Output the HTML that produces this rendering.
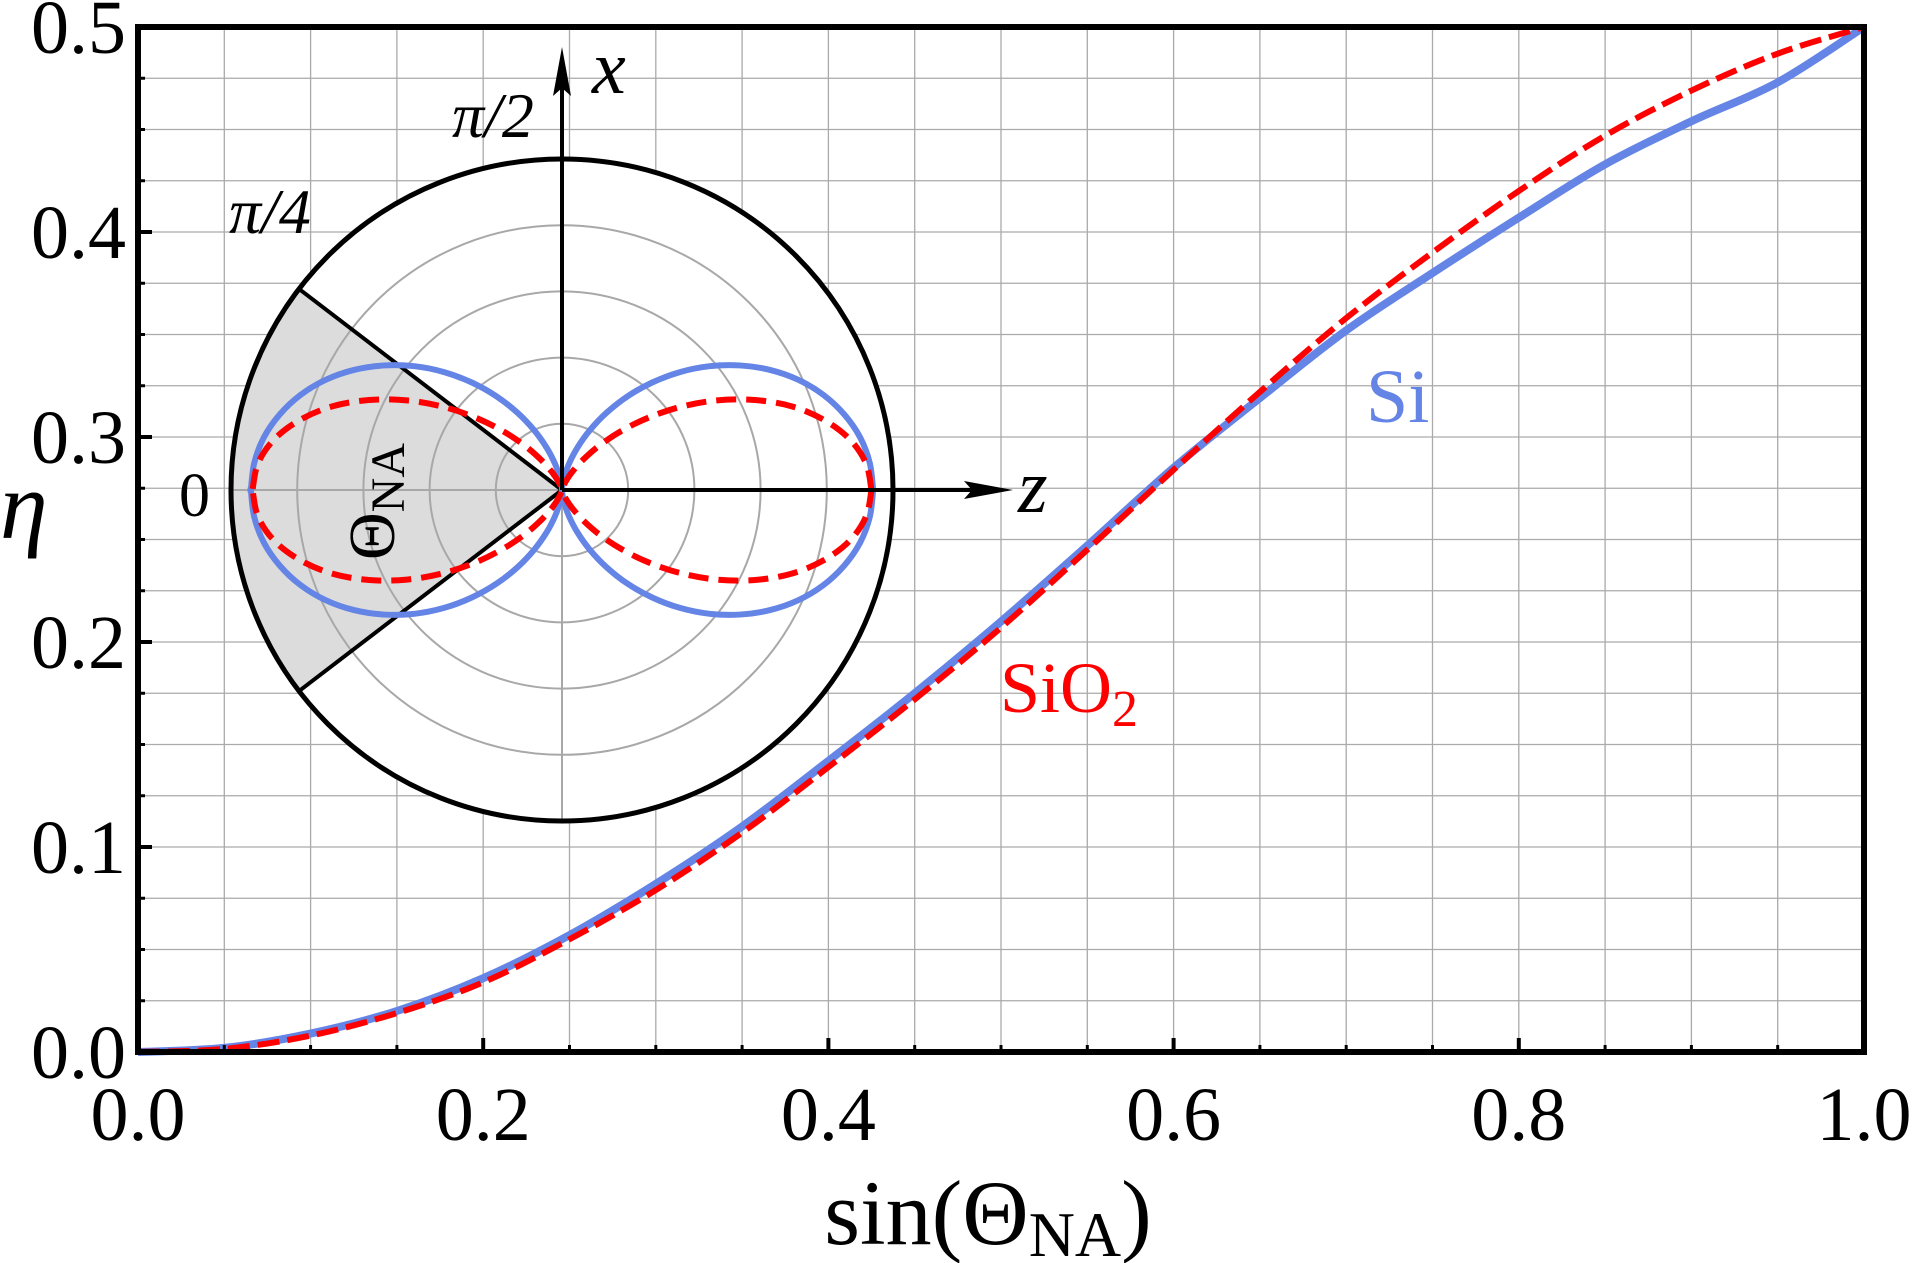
<!DOCTYPE html>
<html><head><meta charset="utf-8"><style>
html,body{margin:0;padding:0;background:#fff;}
svg{display:block;}
svg text{font-family:"Liberation Serif","Times New Roman",serif;}
</style></head><body>
<svg id="chart" width="1915" height="1263" viewBox="0 0 1915 1263" xmlns="http://www.w3.org/2000/svg" font-family="Liberation Serif, serif">
<g id="grid"></g>
<g id="inset"></g>
<g id="series"></g>
<g id="axes"></g>
</svg>
<script>
const xCats = [0,0.05,0.1,0.15,0.2,0.25,0.3,0.35,0.4,0.45,0.5,0.55,0.6,0.65,0.7,0.75,0.8,0.85,0.9,0.95,1.0];
const siValues = [0,0.002,0.009,0.02,0.036,0.057,0.082,0.11,0.142,0.175,0.21,0.247,0.285,0.319,0.352,0.38,0.407,0.433,0.454,0.473,0.5];
const sio2Values = [0,0.0015,0.008,0.019,0.034,0.055,0.079,0.107,0.139,0.172,0.207,0.245,0.284,0.322,0.358,0.39,0.42,0.447,0.469,0.487,0.5];
const xTickLabels = ["0.0","0.2","0.4","0.6","0.8","1.0"];
const yTickLabels = ["0.0","0.1","0.2","0.3","0.4","0.5"];
const polarAngles = [0,5,10,15,20,25,30,35,40,45,50,55,60,65,70,75,80,85,90];
const siPattern = [1,.993,.973,.939,.894,.838,.772,.698,.619,.536,.451,.368,.287,.212,.145,.088,.043,.012,0];
const sio2Pattern = [1,.986,.944,.876,.790,.688,.579,.469,.363,.268,.187,.121,.072,.038,.017,.006,.001,0,0];
const polarRings = [0.2,0.4,0.6,0.8];
const naAngle = 37.4;

const NS="http://www.w3.org/2000/svg";
const X0=138,X1=1864,Y0=1052,Y1=27;
const sx=v=>X0+(X1-X0)*v;
const sy=v=>Y0-(Y0-Y1)*(v/0.5);
function mk(tag,attrs,parent){const e=document.createElementNS(NS,tag);for(const k in attrs)e.setAttribute(k,attrs[k]);parent.appendChild(e);return e;}
const grid=document.getElementById('grid'),axes=document.getElementById('axes'),series=document.getElementById('series'),inset=document.getElementById('inset');

for(let i=1;i<20;i++){
  const gx=mk('line',{x1:sx(i*0.05),x2:sx(i*0.05),y1:Y1,y2:Y0,stroke:'#aaa','stroke-width':1.3},grid);
  
  
  const gy=mk('line',{x1:X0,x2:X1,y1:sy(i*0.025),y2:sy(i*0.025),stroke:'#aaa','stroke-width':1.3},grid);
  
  
}

const CX=562,CY=490,R=331;
const toXY=(r,deg)=>[CX+r*Math.cos(deg*Math.PI/180),CY-r*Math.sin(deg*Math.PI/180)];
const bg=mk('circle',{cx:CX,cy:CY,r:R,fill:'#fff'},inset);


const a1=toXY(R,180-naAngle),a2=toXY(R,180+naAngle);
const sector=mk('path',{d:`M${CX},${CY} L${a1[0]},${a1[1]} A${R},${R} 0 0 0 ${a2[0]},${a2[1]} Z`,fill:'#dcdcdc',stroke:'none'},inset);


polarRings.forEach(f=>{
  const c=mk('circle',{cx:CX,cy:CY,r:R*f,fill:'none',stroke:'#a8a8a8','stroke-width':2},inset);
  
  
});
const hl=mk('line',{x1:CX-R,x2:CX,y1:CY,y2:CY,stroke:'#a8a8a8','stroke-width':2},inset);


const vl=mk('line',{x1:CX,x2:CX,y1:CY,y2:CY+R,stroke:'#a8a8a8','stroke-width':2},inset);


[180-naAngle,180+naAngle].forEach(d=>{const p=toXY(R,d);
  const l=mk('line',{x1:CX,y1:CY,x2:p[0],y2:p[1],stroke:'#000','stroke-width':4},inset);
  
  
});
const outer=mk('circle',{cx:CX,cy:CY,r:R,fill:'none',stroke:'#000','stroke-width':5},inset);



function lobePath(pattern,scale){
  let pts=[];
  for(let q=0;q<4;q++){
    for(let i=0;i<polarAngles.length;i++){
      const idx=(q%2===0)?i:polarAngles.length-1-i;
      const deg=q*90+((q%2===0)?polarAngles[i]:90-polarAngles[idx]);
      const r=pattern[idx]*R*scale;
      pts.push(toXY(r,deg));
    }
  }
  let d=`M${pts[0][0]},${pts[0][1]}`;
  const n=pts.length;
  for(let i=0;i<n-1;i++){
    const p0=pts[Math.max(i-1,0)],p1=pts[i],p2=pts[i+1],p3=pts[Math.min(i+2,n-1)];
    d+=` C${p1[0]+(p2[0]-p0[0])/6},${p1[1]+(p2[1]-p0[1])/6} ${p2[0]-(p3[0]-p1[0])/6},${p2[1]-(p3[1]-p1[1])/6} ${p2[0]},${p2[1]}`;
  }
  return d;
}
const siLobe=mk('path',{d:lobePath(siPattern,0.94),fill:'none',stroke:'#6484e6','stroke-width':6},inset);


const sLobe=mk('path',{d:lobePath(sio2Pattern,0.935),fill:'none',stroke:'#f00','stroke-width':6,'stroke-dasharray':'20 10'},inset);



const xa=mk('line',{x1:CX,y1:CY,x2:CX,y2:60,stroke:'#000','stroke-width':4},inset);


const xh=mk('path',{d:`M${CX},47 L${CX-9},96 L${CX},88 L${CX+9},96 Z`,fill:'#000'},inset);


const za=mk('line',{x1:CX,y1:CY,x2:1000,y2:CY,stroke:'#000','stroke-width':4},inset);


const zh=mk('path',{d:`M1013,${CY} L964,${CY-9} L972,${CY} L964,${CY+9} Z`,fill:'#000'},inset);


function txt(s,attrs,parent,name){const t=mk('text',attrs,parent);t.textContent=s;return t;}
txt('x',{x:592,y:93,'font-size':76,'font-style':'italic'},inset,'x-axis-label');
txt('z',{x:1018,y:512,'font-size':76,'font-style':'italic'},inset,'z-axis-label');
txt('π/2',{x:452,y:137,'font-size':64,'font-style':'italic'},inset,'angle-label-pi-2');
txt('π/4',{x:229,y:233,'font-size':64,'font-style':'italic'},inset,'angle-label-pi-4');
txt('0',{x:179,y:516,'font-size':62},inset,'angle-label-0');
const th=mk('text',{transform:'translate(394,560) rotate(-90)','font-size':66},inset);


th.innerHTML='Θ<tspan font-size="48" dy="10">NA</tspan>';

function smoothPath(vals){
  const pts=vals.map((v,i)=>[sx(xCats[i]),sy(v)]);const n=pts.length;
  let d=`M${pts[0][0]},${pts[0][1]}`;
  for(let i=0;i<n-1;i++){const p0=pts[Math.max(i-1,0)],p1=pts[i],p2=pts[i+1],p3=pts[Math.min(i+2,n-1)];
    d+=` C${p1[0]+(p2[0]-p0[0])/6},${p1[1]+(p2[1]-p0[1])/6} ${p2[0]-(p3[0]-p1[0])/6},${p2[1]-(p3[1]-p1[1])/6} ${p2[0]},${p2[1]}`;}
  return d;
}
const siLine=mk('path',{d:smoothPath(siValues),fill:'none',stroke:'#6484e6','stroke-width':8},series);


const sLine=mk('path',{d:smoothPath(sio2Values),fill:'none',stroke:'#f00','stroke-width':6,'stroke-dasharray':'22 8'},series);


txt('Si',{x:1366,y:422,'font-size':76,fill:'#6484e6'},series,'si-label');
const sl=mk('text',{x:1000,y:712,'font-size':72,fill:'#f00'},series);


sl.innerHTML='SiO<tspan font-size="52" dy="14">2</tspan>';

const frame=mk('rect',{x:X0,y:Y1,width:X1-X0,height:Y0-Y1,fill:'none',stroke:'#000','stroke-width':6},axes);


for(let i=1;i<20;i++){
  const major=i%4===0;
  const tx=mk('line',{x1:sx(i*0.05),x2:sx(i*0.05),y1:Y0,y2:Y0-(major?14:7),stroke:'#000','stroke-width':major?4:3},axes);
  
  
  const ty=mk('line',{x1:X0,x2:X0+(major?14:7),y1:sy(i*0.025),y2:sy(i*0.025),stroke:'#000','stroke-width':major?4:3},axes);
  
  
}
xTickLabels.forEach((s,i)=>{txt(s,{x:sx(i*0.2),y:1140,'font-size':76,'text-anchor':'middle'},axes,'x-tick-label');});
yTickLabels.forEach((s,i)=>{txt(s,{x:126,y:sy(i*0.1)+26,'font-size':76,'text-anchor':'end'},axes,'y-tick-label');});
txt('η',{x:0,y:538,'font-size':96,'font-style':'italic'},axes,'y-axis-title');
const xt=mk('text',{x:988,y:1244,'font-size':92,'text-anchor':'middle'},axes);


xt.innerHTML='sin(Θ<tspan font-size="64" dy="12">NA</tspan><tspan dy="-12">)</tspan>';
</script>
</body></html>
